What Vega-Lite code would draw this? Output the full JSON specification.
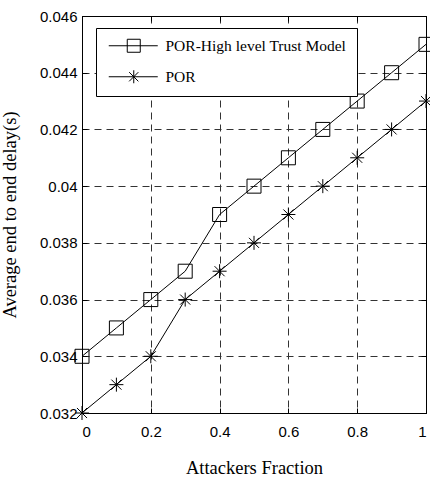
{
  "$schema": "https://vega.github.io/schema/vega-lite/v6.json",
  "width": 344,
  "height": 397,
  "autosize": "none",
  "padding": {"left": 82, "top": 16, "right": 4, "bottom": 64},
  "background": "white",
  "config": {
    "view": {"stroke": "black", "strokeWidth": 1},
    "axis": {
      "domainColor": "black",
      "tickColor": "black",
      "labelColor": "black",
      "titleColor": "black",
      "labelFont": "Liberation Sans",
      "labelFontSize": 15,
      "titleFont": "Liberation Serif",
      "titleFontSize": 18.5,
      "titleFontWeight": "normal",
      "gridColor": "#333333",
      "gridDash": [7, 5],
      "gridOpacity": 1,
      "gridWidth": 1,
      "tickSize": -5
    }
  },
  "data": {
    "values": [
      {"x": 0.0, "y": 0.034, "series": "POR-High level Trust Model"},
      {"x": 0.1, "y": 0.035, "series": "POR-High level Trust Model"},
      {"x": 0.2, "y": 0.036, "series": "POR-High level Trust Model"},
      {"x": 0.3, "y": 0.037, "series": "POR-High level Trust Model"},
      {"x": 0.4, "y": 0.039, "series": "POR-High level Trust Model"},
      {"x": 0.5, "y": 0.040, "series": "POR-High level Trust Model"},
      {"x": 0.6, "y": 0.041, "series": "POR-High level Trust Model"},
      {"x": 0.7, "y": 0.042, "series": "POR-High level Trust Model"},
      {"x": 0.8, "y": 0.043, "series": "POR-High level Trust Model"},
      {"x": 0.9, "y": 0.044, "series": "POR-High level Trust Model"},
      {"x": 1.0, "y": 0.045, "series": "POR-High level Trust Model"},
      {"x": 0.0, "y": 0.032, "series": "POR"},
      {"x": 0.1, "y": 0.033, "series": "POR"},
      {"x": 0.2, "y": 0.034, "series": "POR"},
      {"x": 0.3, "y": 0.036, "series": "POR"},
      {"x": 0.4, "y": 0.037, "series": "POR"},
      {"x": 0.5, "y": 0.038, "series": "POR"},
      {"x": 0.6, "y": 0.039, "series": "POR"},
      {"x": 0.7, "y": 0.040, "series": "POR"},
      {"x": 0.8, "y": 0.041, "series": "POR"},
      {"x": 0.9, "y": 0.042, "series": "POR"},
      {"x": 1.0, "y": 0.043, "series": "POR"}
    ]
  },
  "layer": [
    {
      "mark": {"type": "line", "color": "black", "strokeWidth": 1},
      "encoding": {
        "x": {
          "field": "x", "type": "quantitative",
          "scale": {"domain": [0, 1], "nice": false, "zero": false},
          "axis": {
            "orient": "bottom",
            "title": "Attackers Fraction",
            "values": [0, 0.2, 0.4, 0.6, 0.8, 1],
            "format": "~g",
            "labelPadding": 16,
            "titlePadding": 19,
            "grid": true
          }
        },
        "y": {
          "field": "y", "type": "quantitative",
          "scale": {"domain": [0.032, 0.046], "nice": false, "zero": false},
          "axis": {
            "orient": "left",
            "title": "Average end to end delay(s)",
            "values": [0.032, 0.034, 0.036, 0.038, 0.04, 0.042, 0.044, 0.046],
            "format": "~g",
            "labelPadding": 10,
            "titlePadding": 20,
            "grid": true
          }
        },
        "detail": {"field": "series"}
      }
    },
    {
      "mark": {"type": "point", "filled": false, "stroke": "black", "strokeWidth": 1, "size": 196, "opacity": 1},
      "encoding": {
        "x": {"field": "x", "type": "quantitative", "axis": {"orient": "top", "labels": false, "title": null, "grid": false, "values": [0, 0.2, 0.4, 0.6, 0.8, 1]}},
        "y": {"field": "y", "type": "quantitative", "axis": {"orient": "right", "labels": false, "title": null, "grid": false, "values": [0.032, 0.034, 0.036, 0.038, 0.04, 0.042, 0.044, 0.046]}},
        "shape": {
          "field": "series", "type": "nominal",
          "scale": {
            "domain": ["POR-High level Trust Model", "POR"],
            "range": ["square", "M-1,0L1,0M0,-1L0,1M-0.72,-0.72L0.72,0.72M-0.72,0.72L0.72,-0.72"]
          },
          "legend": null
        }
      }
    },
    {
      "transform": [{"filter": "false"}],
      "mark": {"type": "point", "filled": false, "stroke": "black", "strokeWidth": 1, "size": 100, "opacity": 1},
      "encoding": {
        "shape": {
          "field": "series", "type": "nominal",
          "scale": {
            "domain": ["POR-High level Trust Model", "POR"],
            "range": ["M-1,0H8.8M2.7,-1.3H5.3V1.3H2.7Z", "M-1,0H8.8M4,-1.3V1.3M3.08,-0.92L4.92,0.92M3.08,0.92L4.92,-0.92"]
          },
          "legend": {
            "title": null,
            "orient": "none",
            "legendX": 14,
            "legendY": 12,
            "strokeColor": "black",
            "fillColor": "white",
            "padding": 10,
            "symbolSize": 100,
            "symbolStrokeColor": "black",
            "symbolStrokeWidth": 1,
            "symbolFillColor": "transparent",
            "labelFont": "Liberation Serif",
            "labelFontSize": 15.5,
            "labelLimit": 400,
            "labelColor": "black",
            "labelOffset": 44,
            "rowPadding": 13
          }
        }
      }
    }
  ],
  "resolve": {"axis": {"x": "independent", "y": "independent"}, "scale": {"shape": "independent"}}
}
